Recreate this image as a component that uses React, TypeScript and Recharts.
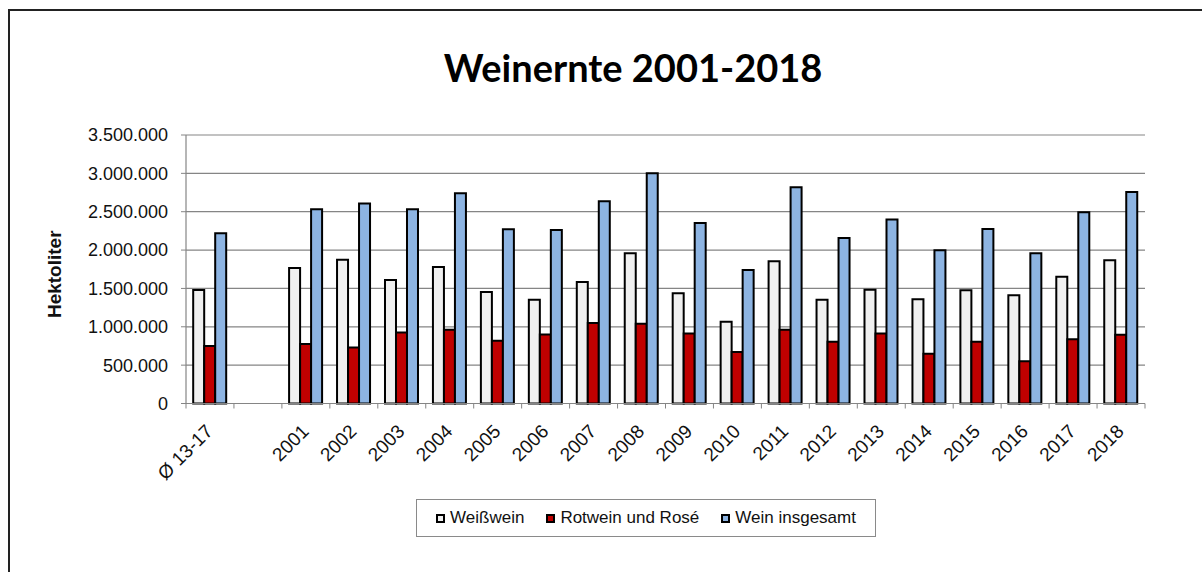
import React from "react";
import { BarChart, Bar, XAxis, YAxis, CartesianGrid, Legend, Label } from "recharts";

const categories = ["Ø 13-17", "", "2001", "2002", "2003", "2004", "2005", "2006", "2007", "2008", "2009", "2010", "2011", "2012", "2013", "2014", "2015", "2016", "2017", "2018"];
const weisswein = [1479000, null, 1766000, 1875000, 1610000, 1779000, 1453000, 1352000, 1584000, 1958000, 1436000, 1065000, 1854000, 1352000, 1483000, 1358000, 1475000, 1410000, 1653000, 1867000];
const rotwein = [748000, null, 774000, 731000, 927000, 961000, 817000, 901000, 1048000, 1039000, 914000, 670000, 961000, 804000, 914000, 648000, 804000, 552000, 839000, 896000];
const gesamt = [2219000, null, 2533000, 2606000, 2533000, 2741000, 2271000, 2262000, 2637000, 3003000, 2354000, 1740000, 2820000, 2158000, 2397000, 1997000, 2275000, 1958000, 2493000, 2758000];
const yTicks = [0, 500000, 1000000, 1500000, 2000000, 2500000, 3000000, 3500000];
const seriesNames = ["Weißwein", "Rotwein und Rosé", "Wein insgesamt"];
const seriesColors = ["#f0f0f0", "#c00000", "#8db4e2"];

const data = categories.map((c, i) => ({
  cat: c,
  w: weisswein[i],
  r: rotwein[i],
  g: gesamt[i],
}));

const fmt = (v: number) => String(v).replace(/\B(?=(\d{3})+(?!\d))/g, ".");
const FONT = "'Liberation Sans', Arial, sans-serif";
const GRID = "#858585";

const XTick = (props: any) => {
  const { x, y, payload, index } = props;
  const off = payload && payload.offset != null ? payload.offset : 24;
  const last = index === categories.length - 1;
  const ax = x + 4;
  const ay = y + 29;
  return (
    <g>
      <line x1={x - off} x2={x - off} y1={y} y2={y + 5} stroke={GRID} strokeWidth={1} />
      {last && <line x1={x + off} x2={x + off} y1={y} y2={y + 5} stroke={GRID} strokeWidth={1} />}
      <text
        x={ax}
        y={ay}
        textAnchor="end"
        fontFamily={FONT}
        fontSize={19}
        fill="#111"
        transform={`rotate(-45, ${ax}, ${ay})`}
      >
        {payload.value}
      </text>
    </g>
  );
};

const LegendBox = () => (
  <div
    style={{
      boxSizing: "border-box",
      width: 460,
      height: 38,
      border: "1px solid #8a8a8a",
      display: "flex",
      alignItems: "center",
      justifyContent: "center",
      gap: 22,
      fontFamily: FONT,
      fontSize: 17,
      color: "#111",
      background: "#fff",
    }}
  >
    {seriesNames.map((n, i) => (
      <div key={n} style={{ display: "flex", alignItems: "center" }}>
        <span
          style={{
            display: "inline-block",
            boxSizing: "border-box",
            width: 9,
            height: 9,
            border: "2px solid #000",
            background: seriesColors[i],
            marginRight: 5,
          }}
        />
        <span>{n}</span>
      </div>
    ))}
  </div>
);

export default function App() {
  return (
    <div
      style={{
        position: "absolute",
        left: 8,
        top: 9,
        width: 1194,
        height: 563,
        boxSizing: "border-box",
        borderTop: "2px solid #222",
        borderLeft: "2px solid #222",
        background: "#fff",
      }}
    >
      <svg style={{ position: "absolute", left: 0, top: 0 }} width={1192} height={100}>
        <text x={623} y={71} textAnchor="middle" fontFamily="Lato, 'Open Sans', sans-serif" fontWeight="bold" fontSize={38} fill="#000">
          Weinernte 2001-2018
        </text>
      </svg>
      <div style={{ position: "absolute", left: 0, top: 0 }}>
        <BarChart
          width={1192}
          height={560}
          data={data}
          margin={{ top: 124, right: 57, left: 10, bottom: 107.5 }}
          barCategoryGap="15%"
          barGap={0}
        >
          <CartesianGrid vertical={false} stroke={GRID} strokeWidth={1.2} />
          <XAxis
            dataKey="cat"
            interval={0}
            height={60}
            tickSize={0}
            tickMargin={0}
            tickLine={false}
            axisLine={{ stroke: GRID, strokeWidth: 1.2 }}
            tick={<XTick />}
          />
          <YAxis
            width={166}
            domain={[0, 3500000]}
            ticks={yTicks}
            tickFormatter={fmt}
            tickSize={5}
            tickMargin={13}
            tickLine={{ stroke: GRID }}
            axisLine={{ stroke: GRID, strokeWidth: 1.2 }}
            tick={{ fontFamily: FONT, fontSize: 18, fill: "#111" }}
          >
            <Label
              content={(p: any) => {
                const vb = p.viewBox || { x: 10, y: 124, width: 166, height: 268 };
                const cx = vb.x + 41;
                const cy = vb.y + vb.height / 2 + 5;
                return (
                  <text
                    x={cx}
                    y={cy}
                    textAnchor="middle"
                    fontFamily={FONT}
                    fontWeight="bold"
                    fontSize={19}
                    fill="#111"
                    transform={`rotate(-90, ${cx}, ${cy})`}
                  >
                    Hektoliter
                  </text>
                );
              }}
            />
          </YAxis>
          <YAxis yAxisId="border" orientation="right" width={0} tick={false} tickLine={false} axisLine={{ stroke: GRID, strokeWidth: 1.2 }} />
          <Legend
            layout="horizontal"
            align="center"
            verticalAlign="middle"
            wrapperStyle={{ left: 406, top: 488, width: 460 }}
            content={<LegendBox />}
          />
          <Bar dataKey="w" name={seriesNames[0]} fill={seriesColors[0]} stroke="#000" strokeWidth={2} isAnimationActive={false} />
          <Bar dataKey="r" name={seriesNames[1]} fill={seriesColors[1]} stroke="#000" strokeWidth={2} isAnimationActive={false} />
          <Bar dataKey="g" name={seriesNames[2]} fill={seriesColors[2]} stroke="#000" strokeWidth={2} isAnimationActive={false} />
        </BarChart>
      </div>
    </div>
  );
}
